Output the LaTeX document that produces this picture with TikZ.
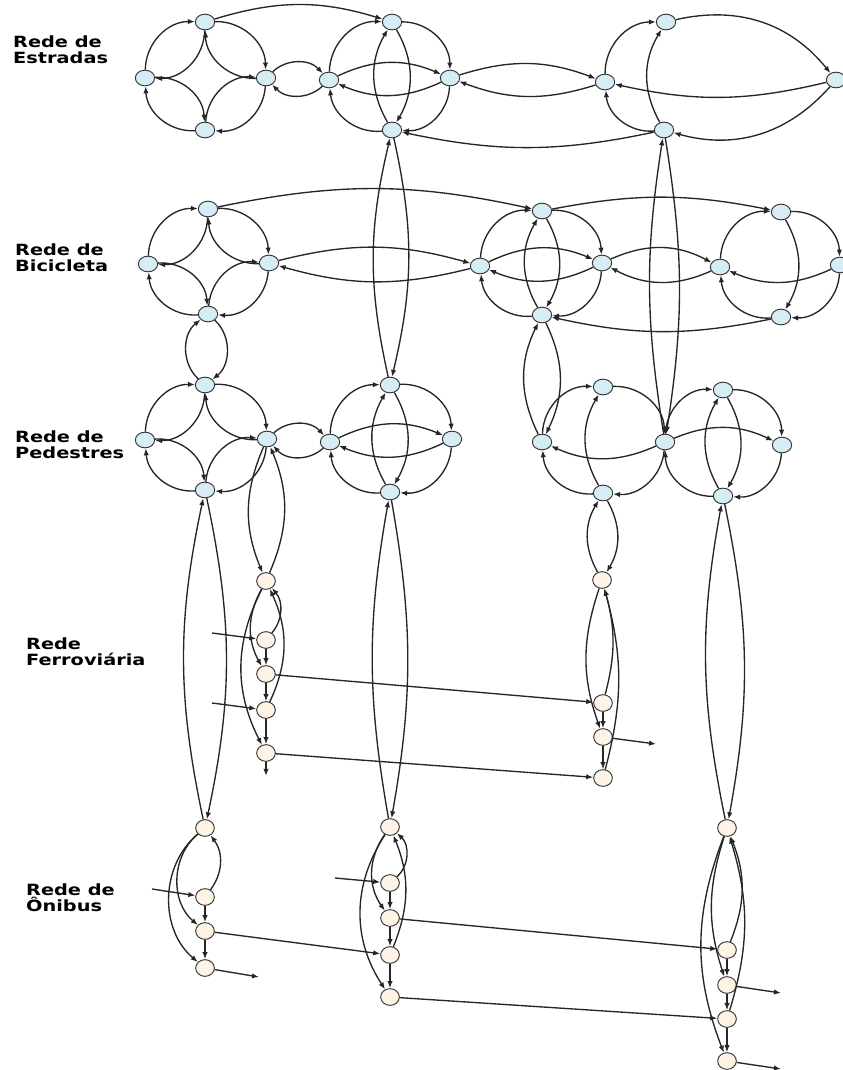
\documentclass[tikz,border=0pt]{standalone}
\usepackage{fontspec}
\newfontfamily\netfont[FakeStretch=1.25]{DejaVu Sans}
\usetikzlibrary{arrows.meta,shapes.geometric}

\definecolor{hubfill}{HTML}{D6EDF5}
\definecolor{stopfill}{HTML}{FDF4E6}

\begin{document}
\begin{tikzpicture}[
    x=0.03cm, y=-0.03cm,
    hub/.style={
      ellipse, draw=black!80, line width=0.8pt,
      fill=hubfill,
      minimum width=0.58cm, minimum height=0.47cm,
      inner sep=0pt
    },
    stop/.style={hub, fill=stopfill, minimum width=0.56cm, minimum height=0.5cm},
    arr/.style={-{Latex[length=6pt,width=4.6pt]}, line width=1.15pt, draw=black!85},
    bl/.style={arr, bend left=#1},
    br/.style={arr, bend right=#1},
    layer/.style={anchor=west, align=left,
      font=\netfont\bfseries\fontsize{13.2}{14}\selectfont}
  ]
  \useasboundingbox (0,0) rectangle (842,1070);

  % Layer names
  \node[layer] (lE) at (9,50)   {Rede de\\Estradas};
  \node[layer] (lB) at (11,258) {Rede de\\Bicicleta};
  \node[layer] (lP) at (11,445) {Rede de\\Pedestres};
  \node[layer] (lF) at (22,652) {Rede\\Ferroviária};
  \node[layer] (lO) at (22,898) {Rede de\\Ônibus};

  % ---------------- Road network
  \node[hub] (EAt) at (205,22) {};
  \node[hub] (EAl) at (145,78) {};
  \node[hub] (EAr) at (266,78) {};
  \node[hub] (EAb) at (205,130) {};
  \node[hub] (EBt) at (392,22) {};
  \node[hub] (EBl) at (329,80) {};
  \node[hub] (EBr) at (450,78) {};
  \node[hub] (EBb) at (392,130) {};
  \node[hub] (ECt) at (666,22) {};
  \node[hub] (ECl) at (605,82) {};
  \node[hub] (ECr) at (836,80) {};
  \node[hub] (ECb) at (664,130) {};

  % ---------------- Bicycle network
  \node[hub] (BAt) at (208,209) {};
  \node[hub] (BAl) at (148,264) {};
  \node[hub] (BAr) at (269,263) {};
  \node[hub] (BAb) at (208,314) {};
  \node[hub] (BBt) at (542,211) {};
  \node[hub] (BBl) at (480,266) {};
  \node[hub] (BBr) at (602,263) {};
  \node[hub] (BBb) at (542,315) {};
  \node[hub] (BCt) at (781,212) {};
  \node[hub] (BCl) at (720,267) {};
  \node[hub] (BCr) at (840,265) {};
  \node[hub] (BCb) at (781,317) {};

  % ---------------- Pedestrian network
  \node[hub] (PAt) at (205,385) {};
  \node[hub] (PAl) at (145,440) {};
  \node[hub] (PAr) at (267,439) {};
  \node[hub] (PAb) at (205,490) {};
  \node[hub] (PBt) at (390,385) {};
  \node[hub] (PBl) at (330,442) {};
  \node[hub] (PBr) at (452,439) {};
  \node[hub] (PBb) at (390,492) {};
  \node[hub] (PCt) at (603,387) {};
  \node[hub] (PCl) at (542,442) {};
  \node[hub] (PCm) at (665,442) {};
  \node[hub] (PCb) at (603,493) {};
  \node[hub] (PDt) at (723,390) {};
  \node[hub] (PDr) at (782,445) {};
  \node[hub] (PDb) at (723,496) {};

  % ---------------- Rail network
  \node[stop] (FA1) at (266,581) {};
  \node[stop] (FA2) at (266,640) {};
  \node[stop] (FA3) at (266,674) {};
  \node[stop] (FA4) at (266,710) {};
  \node[stop] (FA5) at (266,753) {};
  \node[stop] (FC1) at (602,580) {};
  \node[stop] (FC2) at (603,703) {};
  \node[stop] (FC3) at (603,737) {};
  \node[stop] (FC4) at (603,778) {};

  % ---------------- Bus network
  \node[stop] (OA1) at (205,828) {};
  \node[stop] (OA2) at (205,897) {};
  \node[stop] (OA3) at (205,931) {};
  \node[stop] (OA4) at (205,968) {};
  \node[stop] (OB1) at (390,827) {};
  \node[stop] (OB2) at (390,883) {};
  \node[stop] (OB3) at (390,918) {};
  \node[stop] (OB4) at (390,955) {};
  \node[stop] (OB5) at (390,997) {};
  \node[stop] (OC1) at (727,828) {};
  \node[stop] (OC2) at (727,950) {};
  \node[stop] (OC3) at (727,985) {};
  \node[stop] (OC4) at (727,1019) {};
  \node[stop] (OC5) at (727,1061) {};

  % Loose ends of the access / exit links
  \coordinate (inF2) at (212,633);
  \coordinate (inF4) at (212,703);
  \coordinate (outF5) at (266,776);
  \coordinate (outFC3) at (656,744);
  \coordinate (inO2) at (152,889);
  \coordinate (inOB2) at (335,878);
  \coordinate (outO4) at (259,977);
  \coordinate (outOC3) at (781,993);
  \coordinate (outOC5) at (781,1069);

  % Diamond clusters: both directions on every side
  \foreach \a/\b in {EAl/EAt, EAt/EAr, EAr/EAb, EAb/EAl,
                     BAl/BAt, BAt/BAr, BAr/BAb, BAb/BAl,
                     PAl/PAt, PAt/PAr, PAr/PAb, PAb/PAl}{
    \draw[bl=45] (\a) to (\b);
    \draw[bl=45] (\b) to (\a);
  }

  % Outer rings, one direction
  \foreach \a/\b in {EBl/EBt, EBt/EBr, EBr/EBb, EBb/EBl,
                     BBl/BBt, BBt/BBr, BBr/BBb, BBb/BBl,
                     PBl/PBt, PBt/PBr, PBr/PBb, PBb/PBl,
                     BCl/BCt, BCt/BCr, BCr/BCb, BCb/BCl,
                     PCl/PCt, PCt/PCm, PCm/PCb, PCb/PCl,
                     PCm/PDt, PDt/PDr, PDr/PDb, PDb/PCm,
                     ECl/ECt, ECb/ECl}
    \draw[bl=45] (\a) to (\b);
  \draw[bl=32] (ECt) to (ECr);
  \draw[bl=32] (ECr) to (ECb);

  % Cross lenses inside the full clusters
  \foreach \c in {E,B,P}{
    \draw[bl=24] (\c Bl) to (\c Br);
    \draw[bl=24] (\c Br) to (\c Bl);
    \draw[bl=30] (\c Bt) to (\c Bb);
    \draw[bl=30] (\c Bb) to (\c Bt);
  }
  \draw[bl=30] (PDt) to (PDb);
  \draw[bl=30] (PDb) to (PDt);
  \draw[bl=24] (PCm) to (PDr);
  \draw[bl=30] (PCb) to (PCt);
  \draw[bl=24] (PCm) to (PCl);
  \draw[bl=30] (BCt) to (BCb);
  \draw[bl=24] (BCr) to (BCl);
  \draw[bl=30] (ECb) to (ECt);
  \draw[bl=13] (ECr) to (ECl);

  % Links between clusters of a layer
  \foreach \a/\b/\k in {EAr/EBl/45, EBr/ECl/19, BAr/BBl/15, BBr/BCl/26, PAr/PBl/45}{
    \draw[bl=\k] (\a) to (\b);
    \draw[bl=\k] (\b) to (\a);
  }
  \draw[bl=17] (EAt) to (EBt);
  \draw[bl=12] (ECb) to (EBb);
  \draw[bl=12] (BAt) to (BBt);
  \draw[bl=11] (BBt) to (BCt);
  \draw[bl=12] (BCb) to (BBb);

  % Transfers between layers
  \foreach \a/\b/\k in {BAb/PAt/50, EBb/PBt/13, ECb/PCm/9, BBb/PCl/26,
                        PAb/OA1/12, PBb/OB1/10, PCb/FC1/30, PDb/OC1/11}{
    \draw[bl=\k] (\a) to (\b);
    \draw[bl=\k] (\b) to (\a);
  }
  \draw[br=23] (PAr) to (FA1);
  \draw[br=23] (FA1) to (PAr);

  % Rail lines
  \draw[arr] (FA2) -- (FA3);
  \draw[arr] (FA3) -- (FA4);
  \draw[arr] (FA4) -- (FA5);
  \draw[arr] (FA5) -- (outF5);
  \draw[arr] (inF2) -- (FA2);
  \draw[arr] (inF4) -- (FA4);
  \draw[br=29] (FA1) to (FA3);
  \draw[br=27] (FA1) to (FA5);
  \draw[br=40] (FA2) to (FA1);
  \draw[br=25] (FA4) to (FA1);
  \draw[arr] (FA3) -- (FC2);
  \draw[arr] (FA5) -- (FC4);
  \draw[arr] (FC2) -- (FC3);
  \draw[arr] (FC3) -- (FC4);
  \draw[arr] (FC3) -- (outFC3);
  \draw[br=19] (FC1) to (FC3);
  \draw[br=15] (FC2) to (FC1);
  \draw[br=15] (FC4) to (FC1);

  % Bus lines
  \draw[arr] (inO2) -- (OA2);
  \draw[arr] (OA2) -- (OA3);
  \draw[arr] (OA3) -- (OA4);
  \draw[arr] (OA4) -- (outO4);
  \draw[br=50] (OA1) to (OA3);
  \draw[br=50] (OA1) to (OA4);
  \draw[br=37] (OA2) to (OA1);
  \draw[arr] (OA3) -- (OB4);
  \draw[arr] (inOB2) -- (OB2);
  \draw[arr] (OB2) -- (OB3);
  \draw[arr] (OB3) -- (OB4);
  \draw[arr] (OB4) -- (OB5);
  \draw[br=35] (OB1) to (OB3);
  \draw[br=33] (OB1) to (OB5);
  \draw[br=48] (OB2) to (OB1);
  \draw[br=22] (OB4) to (OB1);
  \draw[arr] (OB3) -- (OC2);
  \draw[arr] (OB5) -- (OC4);
  \draw[arr] (OC2) -- (OC3);
  \draw[arr] (OC3) -- (OC4);
  \draw[arr] (OC4) -- (OC5);
  \draw[arr] (OC3) -- (outOC3);
  \draw[arr] (OC5) -- (outOC5);
  \draw[br=18] (OC1) to (OC3);
  \draw[br=21] (OC1) to (OC5);
  \draw[br=22] (OC2) to (OC1);
  \draw[br=17] (OC4) to (OC1);

\end{tikzpicture}
\end{document}
